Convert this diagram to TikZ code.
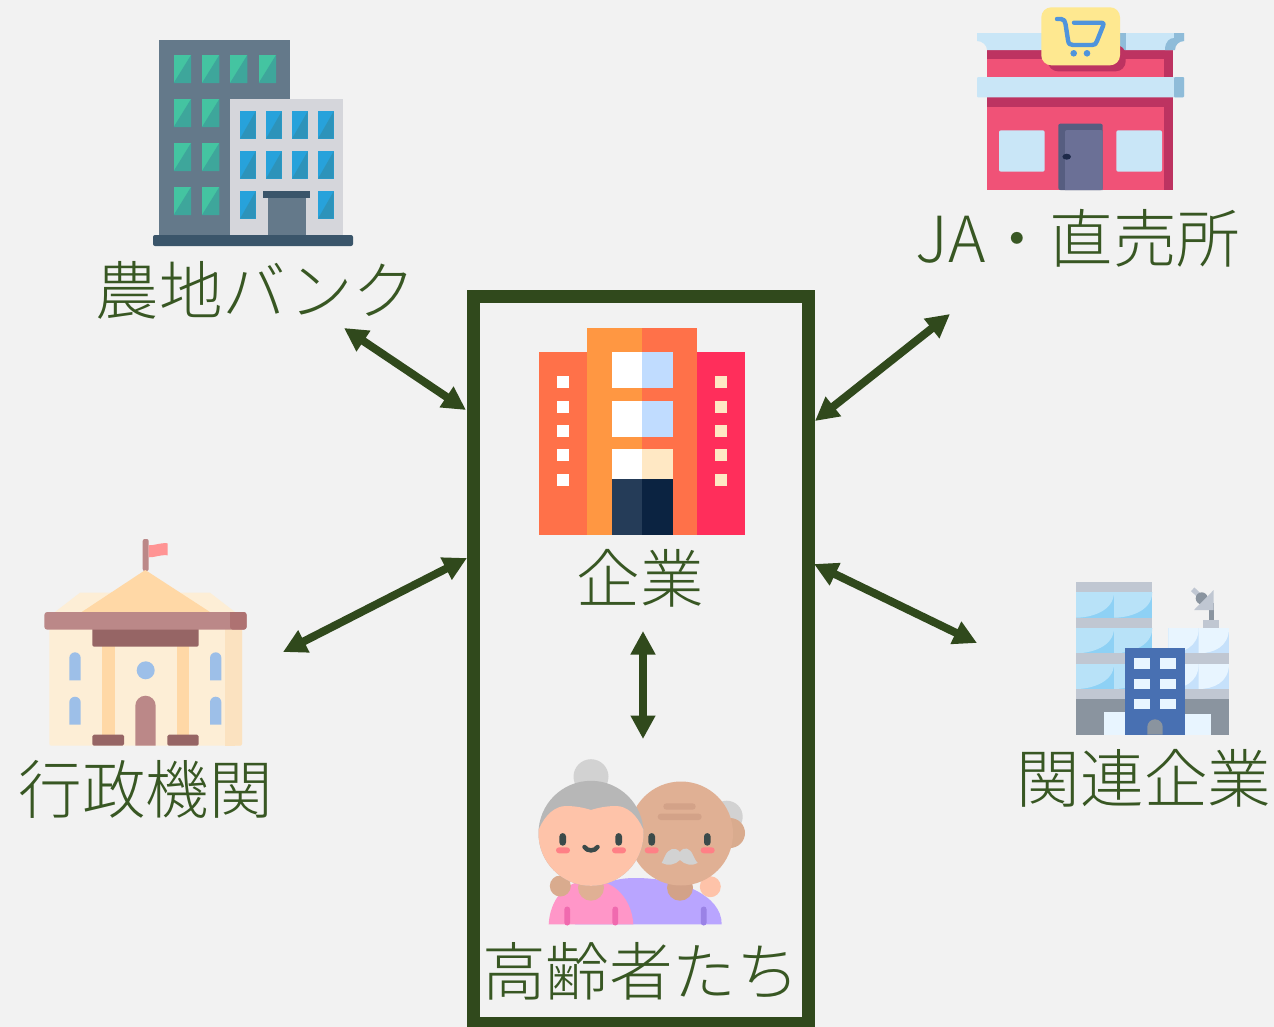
\documentclass[tikz,border=0pt]{standalone}
\usepackage{fontspec}
\usetikzlibrary{arrows.meta}
\newfontfamily\jpfont{Noto Sans CJK JP Light}
% palette
\definecolor{bgc}{HTML}{F2F2F2}
\definecolor{frameg}{HTML}{30491C}
\definecolor{textg}{HTML}{385723}
\definecolor{slate}{HTML}{64798A}
\definecolor{navy}{HTML}{3A556A}
\definecolor{paleg}{HTML}{D5D6DB}
\definecolor{greenA}{HTML}{44C4A1}
\definecolor{greenB}{HTML}{3EA69B}
\definecolor{blueA}{HTML}{27A2DB}
\definecolor{blueB}{HTML}{2D93BA}
\definecolor{shopsky}{HTML}{C9E6F7}
\definecolor{shopsteel}{HTML}{8FBCD9}
\definecolor{shoprose}{HTML}{F05277}
\definecolor{shopwine}{HTML}{BD3361}
\definecolor{shopdoorA}{HTML}{565D80}
\definecolor{shopdoorB}{HTML}{6B7096}
\definecolor{shopknob}{HTML}{1E2A4A}
\definecolor{signy}{HTML}{FEE890}
\definecolor{cartb}{HTML}{4F94DC}
\definecolor{coA}{HTML}{FF7149}
\definecolor{coB}{HTML}{FF9742}
\definecolor{coC}{HTML}{FF2E5B}
\definecolor{coW}{HTML}{C0DCFF}
\definecolor{coY}{HTML}{FFE8C4}
\definecolor{coD}{HTML}{253C58}
\definecolor{coE}{HTML}{0B2341}
\definecolor{govA}{HTML}{FDEED6}
\definecolor{govB}{HTML}{FBE2C0}
\definecolor{govC}{HTML}{FFD8A6}
\definecolor{govD}{HTML}{BB8888}
\definecolor{govE}{HTML}{AE7272}
\definecolor{govF}{HTML}{966565}
\definecolor{govG}{HTML}{9DBFE8}
\definecolor{govH}{HTML}{FF9494}
\definecolor{relA}{HTML}{C0C7D2}
\definecolor{relB}{HTML}{B8E2F8}
\definecolor{relC}{HTML}{8ED1F5}
\definecolor{relD}{HTML}{E8F5FF}
\definecolor{relE}{HTML}{C6E1FB}
\definecolor{relF}{HTML}{8A949F}
\definecolor{relG}{HTML}{4870B2}
\definecolor{skinA}{HTML}{FEC3A9}
\definecolor{skinB}{HTML}{E0B094}
\definecolor{skinC}{HTML}{D3A288}
\definecolor{skinD}{HTML}{D9AB8E}
\definecolor{hairA}{HTML}{B7B7B7}
\definecolor{hairB}{HTML}{D2D2D2}
\definecolor{purpA}{HTML}{B9A5FF}
\definecolor{purpB}{HTML}{9A82E6}
\definecolor{pinkA}{HTML}{FF96C8}
\definecolor{pinkB}{HTML}{F06AAF}
\definecolor{eyec}{HTML}{3B4A4A}
\definecolor{cheek}{HTML}{FF8086}
% shape helpers: colour, x1, y1, x2, y2
\newcommand{\bx}[5]{\fill[#1] (#2,#3) rectangle (#4,#5);}
\newcommand{\rbx}[6][3]{\fill[#2,rounded corners=#1] (#3,#4) rectangle (#5,#6);}
\newcommand{\diagwin}[6]{\fill[#1] (#3,#4) rectangle (#5,#6);\fill[#2] (#3,#6) -- (#5,#4) -- (#5,#6) -- cycle;}
\newcommand{\pane}[6]{\fill[#1] (#3,#4) rectangle (#5,#6);\fill[#2] (#3,#4) -- (#5,#4) .. controls (#5,#6-6) and (#3+14,#6) .. (#3,#6) -- cycle;}
\newcommand{\archwin}[6]{\fill[#1] (#2,#5) -- (#2,#4+#6) arc[start angle=180,end angle=360,radius=#6] -- (#3,#5) -- cycle;}
\newcommand{\pill}[5]{\fill[#1,rounded corners=#4/2-0.01] (#2-#4/2,#3-#5/2) rectangle (#2+#4/2,#3+#5/2);}
\newcommand{\pilh}[5]{\fill[#1,rounded corners=#5/2-0.01] (#2-#4/2,#3-#5/2) rectangle (#2+#4/2,#3+#5/2);}
\newcommand{\disc}[4]{\fill[#1] (#2,#3) circle[radius=#4];}
\tikzset{
  lab/.style={anchor=base,inner sep=0pt,text=textg,font=\jpfont\fontsize{63.8}{64}\selectfont},
  dblarrow/.style={frameg,line width=8bp,{Triangle[width=23.5bp,length=23.5bp]}-{Triangle[width=23.5bp,length=23.5bp]}},
  framebox/.style={draw=frameg,line width=13bp}
}
\begin{document}
\begin{tikzpicture}[x=1bp,y=-1bp]
\useasboundingbox (0,0) rectangle (1274,1027);
\clip (0,0) rectangle (1274,1027);
\fill[bgc] (0,0) rectangle (1274,1027);

% --- farmland bank building
\bx{slate}{159.3}{40}{290}{236}
\foreach \wy in {55,99,143,187}{\foreach \wx in {173.7,202}{\diagwin{greenA}{greenB}{\wx}{\wy}{\wx+17.3}{\wy+28}}}
\foreach \wx in {230,258.7}{\diagwin{greenA}{greenB}{\wx}{55}{\wx+17.3}{83}}
\bx{paleg}{230}{98.7}{343}{236}
\foreach \wy in {111.3,151.3}{\foreach \wx in {240,266,292,318}{\diagwin{blueA}{blueB}{\wx}{\wy}{\wx+15.7}{\wy+27.4}}}
\foreach \wx in {240,318}{\diagwin{blueA}{blueB}{\wx}{191.3}{\wx+15.7}{218.7}}
\bx{slate}{268}{197.7}{305.7}{236}
\bx{navy}{263.3}{191.3}{310.3}{197.7}
\rbx[2]{navy}{153}{235}{353}{246}

% --- shop
\bx{shoprose}{987.3}{50}{1173.3}{190}
\bx{shopwine}{987.3}{50}{1173.3}{59}
\bx{shopwine}{1163.7}{50}{1173.3}{190}
\bx{shopwine}{987.3}{97}{1173.3}{107}
\fill[shopsky] (977,33) -- (1184,33) -- (1184,41) .. controls (1179,41) and (1174,45) .. (1174,50) -- (987,50) .. controls (987,45) and (982,41) .. (977,41) -- cycle;
\fill[shopsteel] (1174,33) -- (1184,33) -- (1184,41) .. controls (1179,41) and (1175,45) .. (1175,50) -- (1165,50) .. controls (1165,41) and (1170,38) .. (1174,38) -- cycle;
\bx{shopsteel}{1120}{33}{1126}{50}
\fill[shopwine,rounded corners=10] (1048,45) rectangle (1125.7,71.3);
\rbx[1]{shopsky}{977}{77}{1184}{97.3}
\rbx[1]{shopsteel}{1174}{77}{1184}{97.3}
\rbx[2]{shopsky}{999}{130.3}{1044.7}{171.7}
\rbx[2]{shopsky}{1116.3}{130.3}{1162}{171.7}
\fill[shopdoorA,rounded corners=2] (1058.3,190) -- (1058.3,123.7) -- (1102.7,123.7) -- (1102.7,190) -- cycle;
\fill[shopdoorB,rounded corners=2] (1065,190) -- (1065,130) -- (1102.7,130) [sharp corners] -- (1102.7,190) -- cycle;
\fill[shopknob] (1066.7,156.7) ellipse[x radius=4.3,y radius=3];
\rbx[10]{signy}{1041.3}{7.3}{1120}{65.3}
\draw[cartb,line width=4.4bp,line cap=round,line join=round] (1057,19) -- (1061,19) .. controls (1064,19) and (1065,21) .. (1065.5,24) -- (1068,40) .. controls (1068.5,44) and (1070,45) .. (1073,45) -- (1092,45) .. controls (1095,45) and (1096,44) .. (1097,41) -- (1103,26) .. controls (1104,23) and (1103,22.7) .. (1101,22.7) -- (1074,22.7);
\disc{cartb}{1073.7}{53.3}{3.3}
\disc{cartb}{1087}{53.3}{3.3}

% --- company building
\bx{coA}{539}{352.3}{587.3}{534.7}
\bx{coB}{587.3}{328}{641.7}{534.7}
\bx{coA}{641.7}{328}{696.7}{534.7}
\bx{coC}{696.7}{352.3}{745}{534.7}
\foreach \wy/\wz in {352.3/388.3,401/436.7}{\bx{white}{611.7}{\wy}{641.7}{\wz}\bx{coW}{641.7}{\wy}{672.7}{\wz}}
\bx{white}{611.7}{448.7}{641.7}{479}
\bx{coY}{641.7}{448.7}{672.7}{479}
\bx{coD}{611.7}{479}{641.7}{534.7}
\bx{coE}{641.7}{479}{672.7}{534.7}
\foreach \wy in {376.3,400.7,425,449.3,473.7}{\bx{white}{557}{\wy}{569.3}{\wy+12}\bx{coY}{715}{\wy}{727}{\wy+12}}

% --- government building
\fill[govD,rounded corners=2] (142.7,571) -- (142.7,539) -- (148.7,539) -- (148.7,571) -- cycle;
\fill[govH] (148.7,545.3) .. controls (155,545.5) and (160,542.5) .. (167.7,543.3) -- (167.7,555.3) .. controls (160,554.5) and (155,557.5) .. (148.7,557.3) -- cycle;
\fill[govA] (55,612) -- (80,592.7) -- (210,592.7) -- (235,612) -- cycle;
\fill[govC] (145.3,570) -- (81.7,612) -- (210,612) -- cycle;
\fill[govA,rounded corners=2] (49.3,620) rectangle (242,745.7);
\fill[govB,rounded corners=2] (225,620) rectangle (242,745.7);
\bx{govB}{225}{620}{235}{745.7}
\bx{govC}{102}{646}{114.7}{735}
\bx{govC}{177}{646}{189.3}{735}
\rbx[2]{govF}{92.3}{625}{198.7}{646.7}
\rbx[3]{govD}{44.3}{612}{246.7}{629.7}
\fill[govE,rounded corners=3] (230,612) -- (246.7,612) -- (246.7,629.7) -- (230,629.7) [sharp corners] -- cycle;
\rbx[1.5]{govF}{92.3}{734.7}{124}{745.7}
\rbx[1.5]{govF}{167.3}{734.7}{198.7}{745.7}
\disc{govG}{145.7}{670.3}{9}
\archwin{govD}{135.3}{155.7}{695.7}{745.7}{10.2}
\foreach \wx in {69.3,210}{\archwin{govG}{\wx}{\wx+11.4}{652.3}{680.3}{5.7}\archwin{govG}{\wx}{\wx+11.4}{696.7}{724.7}{5.7}}

% --- related company building
\bx{relA}{1076}{582}{1152.3}{592}
\foreach \wy/\wz in {592/617.7,628/653.3,663.7/689}{\pane{relC}{relB}{1076}{\wy}{1114}{\wz}\pane{relC}{relB}{1114}{\wy}{1152.3}{\wz}}
\foreach \wy in {617.7,653.3,689}{\bx{relA}{1076}{\wy}{1152.3}{\wy+10.4}}
\foreach \wy/\wz in {628/653.3,663.7/689}{\pane{relE}{relD}{1168.3}{\wy}{1198.7}{\wz}\pane{relE}{relD}{1198.7}{\wy}{1229}{\wz}}
\bx{relA}{1152.3}{653.3}{1229}{663.7}
\bx{relA}{1152.3}{689}{1229}{699.3}
\bx{relF}{1076}{699.3}{1229}{734.7}
\bx{relD}{1104}{712}{1125}{734.7}
\bx{relD}{1185}{714.3}{1211}{734.7}
\bx{relG}{1124.7}{648.3}{1185.3}{734.7}
\foreach \wy in {658.3,678.7,699}{\bx{relD}{1134.3}{\wy}{1150}{\wy+10.4}\bx{relD}{1160}{\wy}{1175.7}{\wy+10.4}}
\archwin{relF}{1147.3}{1162.7}{719.3}{734.7}{7.7}
\bx{relA}{1203.3}{620.3}{1219}{628}
\bx{relF}{1208.7}{603}{1213.7}{620.3}
\draw[relA,line width=5bp] (1192.7,589.3) -- (1198.7,595);
\disc{relF}{1201.7}{598.3}{6}
\fill[relA] (1213.7,590) -- (1213.7,610) -- (1194,610) -- cycle;

% --- the two seniors
\disc{hairB}{726.7}{816.7}{16}
\disc{skinD}{730}{833}{15}
\fill[purpA] (634,924.3) -- (721.7,924.3) .. controls (721.7,895) and (680,878) .. (635,878) .. controls (600,878) and (580,895) .. (575,924.3) -- cycle;
\fill[pinkA] (548.7,924.3) .. controls (550,900) and (565,880) .. (591,880) .. controls (615,880) and (632,900) .. (633.3,924.3) -- cycle;
\pill{pinkB}{567.2}{916}{5.8}{19}
\pill{pinkB}{615.3}{916}{5.8}{19}
\pill{purpB}{703.7}{916}{5.8}{19}
\disc{skinD}{560.3}{886}{10.5}
\disc{skinA}{710.3}{886.7}{10.5}
\disc{skinC}{680}{887.7}{13}
\disc{skinB}{591}{887.7}{13}
\disc{skinB}{681}{833.5}{52}
\pilh{skinC}{679.5}{806.5}{32.4}{6.4}
\pilh{skinC}{679.7}{816.8}{44}{6.4}
\disc{hairB}{591}{776.7}{17.5}
\disc{hairA}{591}{833.3}{52.5}
\begin{scope}
\clip (591,833.3) circle[radius=52.5];
\fill[skinA] (530,832) -- (539,829) .. controls (545,815) and (555,806) .. (566,806) .. controls (576,806) and (585,808) .. (591,810) .. controls (597,808) and (606,806) .. (616,806) .. controls (627,806) and (637,815) .. (643,829) -- (650,832) -- (650,890) -- (530,890) -- cycle;
\end{scope}
\foreach \ex in {562.7,618.7,651.7,707.3}{\pill{eyec}{\ex}{839.4}{6.6}{12.6}}
\foreach \ex in {563,619,651.7,707.7}{\pilh{cheek}{\ex}{850.3}{14}{6}}
\draw[eyec,line width=4.5bp,line cap=round] (584.5,847) .. controls (587,851.5) and (595,851.5) .. (597.5,847);
\fill[hairB] (680,852) .. controls (675,846) and (668,849) .. (665,856) .. controls (664,859) and (662,862) .. (661.7,863) .. controls (668,866) and (675,865) .. (680,860) .. controls (685,865) and (692,866) .. (697.7,863) .. controls (695,860) and (694,857) .. (693,855) .. controls (690,848) and (684,846) .. (680,852) -- cycle;

% --- frame
\node[framebox,minimum width=335bp,minimum height=727bp,anchor=north west,inner sep=0pt,outer sep=0pt] (frame) at (473.5,296.5) {};

% --- labels
\node[lab] (farm) at (256,314) {農地バンク};
\node[lab] (shop) at (1078,262) {JA・直売所};
\node[lab] (corp) at (640,602) {企業};
\node[lab] (gov) at (146,813) {行政機関};
\node[lab] (rel) at (1144,802) {関連企業};
\node[lab] (old) at (641,995) {高齢者たち};

% --- connector ends
\coordinate (farmEnd) at (344,328);
\coordinate (frameNW) at (466,410);
\coordinate (shopEnd) at (950,314);
\coordinate (frameNE) at (815,421);
\coordinate (govEnd) at (283,652);
\coordinate (frameSW) at (467,558);
\coordinate (relEnd) at (977,643);
\coordinate (frameSE) at (814,564);
\coordinate (corpEnd) at (643,631);
\coordinate (oldEnd) at (643,739);
\draw[dblarrow] (farmEnd) -- (frameNW);
\draw[dblarrow] (shopEnd) -- (frameNE);
\draw[dblarrow] (govEnd) -- (frameSW);
\draw[dblarrow] (relEnd) -- (frameSE);
\draw[dblarrow] (corpEnd) -- (oldEnd);
\end{tikzpicture}
\end{document}
